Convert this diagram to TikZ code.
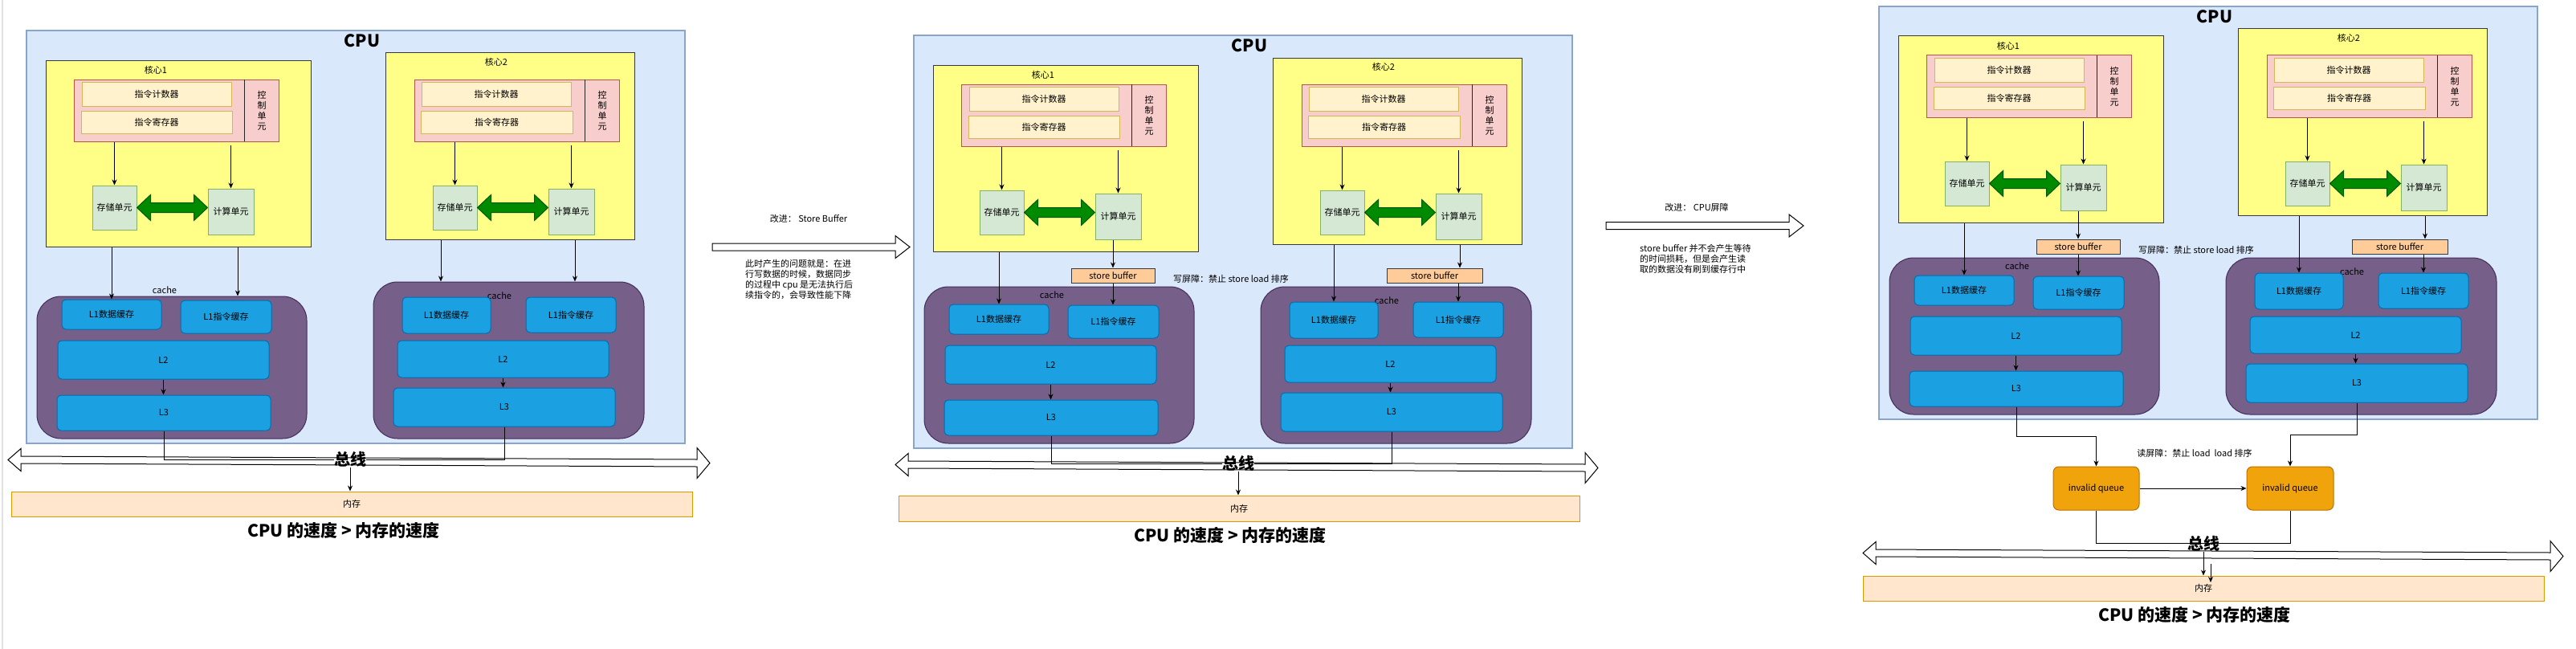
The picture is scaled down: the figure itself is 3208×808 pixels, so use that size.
\documentclass[tikz,border=0pt]{standalone}
\usepackage{fontspec}
\setmainfont{Noto Sans CJK SC}
\usetikzlibrary{calc,arrows.meta}
\definecolor{cpuF}{HTML}{DAE8FC}\definecolor{cpuS}{HTML}{6C8EBF}
\definecolor{coreF}{HTML}{FFFF88}\definecolor{coreS}{HTML}{36393D}
\definecolor{ctrlF}{HTML}{F8CECC}\definecolor{ctrlS}{HTML}{B85450}
\definecolor{regF}{HTML}{FFF2CC}\definecolor{regS}{HTML}{D6B656}
\definecolor{unitF}{HTML}{D5E8D4}\definecolor{unitS}{HTML}{82B366}
\definecolor{cacheF}{HTML}{76608A}\definecolor{cacheS}{HTML}{432D57}
\definecolor{lF}{HTML}{1BA1E2}\definecolor{lS}{HTML}{006EAF}
\definecolor{memF}{HTML}{FFE6CC}\definecolor{memS}{HTML}{D79B00}
\definecolor{sbF}{HTML}{FFCC99}\definecolor{sbS}{HTML}{36393D}
\definecolor{iqF}{HTML}{F0A30A}\definecolor{iqS}{HTML}{BD7000}
\definecolor{gF}{HTML}{008A00}\definecolor{gS}{HTML}{005700}
\tikzset{
  cpubox/.style={fill=cpuF,draw=cpuS!80,line width=1.1pt},
  corebox/.style={fill=coreF,draw=coreS,line width=1pt},
  ctrlbox/.style={fill=ctrlF,draw=ctrlS,line width=1pt},
  regbox/.style={fill=regF,draw=regS,line width=1pt},
  unitbox/.style={fill=unitF,draw=unitS,line width=1pt},
  cachebox/.style={fill=cacheF,draw=cacheS,line width=1pt,rounded corners=30pt},
  lbox/.style={fill=lF,draw=lS,line width=1pt,rounded corners=5pt},
  sbbox/.style={fill=sbF,draw=sbS,line width=1pt},
  iqbox/.style={fill=iqF,draw=iqS,line width=1pt,rounded corners=7pt},
  membox/.style={fill=memF,draw=memS,line width=1pt},
  garrow/.style={fill=gF,draw=gS,line width=1pt},
  hollow/.style={fill=white,draw=black,line width=1pt},
  divl/.style={draw=black!85,line width=1pt},
  arr/.style={-{Stealth[length=7pt,width=6pt]},line width=0.9pt},
  conn/.style={line width=0.9pt},
  titlef/.style={font=\fontsize{21}{24}\selectfont\bfseries},
  busf/.style={font=\fontsize{20}{24}\selectfont\bfseries},
  bigf/.style={font=\fontsize{21}{24}\selectfont\bfseries},
}
\newcommand{\bx}[7]{\node[#1,minimum width={(#5)-(#3)},minimum height={(#6)-(#4)}] (#2) at ({((#3)+(#5))/2},{((#4)+(#6))/2}) {#7};}
% #1 style, #2 left tip, #3 right tip, #4 head length, #5 left head half, #6 right head half, #7 shaft half
\newcommand{\dblarrow}[7]{\filldraw[#1] (#2) -- ($(#2)+(#4,-#5)$) -- ($(#2)+(#4,-#7)$) -- ($(#3)+(-#4,-#7)$) -- ($(#3)+(-#4,-#6)$) -- (#3) -- ($(#3)+(-#4,#6)$) -- ($(#3)+(-#4,#7)$) -- ($(#2)+(#4,#7)$) -- ($(#2)+(#4,#5)$) -- cycle;}
\newcommand{\onearrow}[3]{\filldraw[hollow] ($(#1)+(0,-4.5)$) -- ($(#2)+(-18,-4.5)$) -- ($(#2)+(-18,-14)$) -- (#2) -- ($(#2)+(-18,14)$) -- ($(#2)+(-18,4.5)$) -- ($(#1)+(0,4.5)$) -- cycle;}
\newcommand{\panel}[2]{%
\bx{cpubox}{#1cpu}{33}{38}{853}{552}{}
\node[titlef] (#1title) at (451,51) {CPU};
% core 1
\bx{corebox}{#1k1}{57}{75}{387}{307}{}
\node (#1k1t) at (194,87) {核心1};
\bx{ctrlbox}{#1c1}{92}{99}{347}{176}{}
\draw[divl] (304,99) -- (304,176);
\node[align=center] (#1c1t) at (326,137.5) {控\\制\\单\\元};
\bx{regbox}{#1pc1}{102}{102}{288}{132}{指令计数器}
\bx{regbox}{#1ir1}{101}{138}{289}{166}{指令寄存器}
\bx{unitbox}{#1st1}{115}{231}{170}{286}{存储单元}
\bx{unitbox}{#1cu1}{259}{235}{316}{292}{计算单元}
\draw[arr] (#1c1.south -| #1st1.north) -- (#1st1.north);
\draw[arr] ($(#1c1.south -| #1cu1.north)+(0,4)$) -- (#1cu1.north);
\coordinate (#1gb1) at (#1cu1.west |- #1st1.east);
\dblarrow{garrow}{#1st1.east}{#1gb1}{17}{16}{16}{6}
% core 2
\bx{corebox}{#1k2}{480}{66}{790}{298}{}
\node (#1k2t) at (618,77) {核心2};
\bx{ctrlbox}{#1c2}{516}{99}{771}{176}{}
\draw[divl] (728,99) -- (728,176);
\node[align=center] (#1c2t) at (750,137.5) {控\\制\\单\\元};
\bx{regbox}{#1pc2}{525}{102}{711}{132}{指令计数器}
\bx{regbox}{#1ir2}{524}{138}{713}{166}{指令寄存器}
\bx{unitbox}{#1st2}{539}{231}{594}{286}{存储单元}
\bx{unitbox}{#1cu2}{683}{235}{740}{292}{计算单元}
\draw[arr] (#1c2.south -| #1st2.north) -- (#1st2.north);
\draw[arr] ($(#1c2.south -| #1cu2.north)+(0,4)$) -- (#1cu2.north);
\coordinate (#1gb2) at (#1cu2.west |- #1st2.east);
\dblarrow{garrow}{#1st2.east}{#1gb2}{17}{16}{16}{6}
% caches
\bx{cachebox}{#1ca}{46}{#2}{382}{546}{}
\node (#1cat) at (205,361) {cache};
\bx{lbox}{#1d1}{77}{373}{201}{410}{L1数据缓存}
\bx{lbox}{#1i1}{225}{374}{338}{415}{L1指令缓存}
\bx{lbox}{#1La}{72}{424}{335}{472}{L2}
\bx{lbox}{#1Ma}{71}{492}{337}{536}{L3}
\draw[arr] (#1La.south) -- (#1Ma.north -| #1La.south);
\bx{cachebox}{#1cb}{465}{351}{802}{546}{}
\node (#1cbt) at (622,368) {cache};
\bx{lbox}{#1d2}{501}{370}{611}{415}{L1数据缓存}
\bx{lbox}{#1i2}{655}{370}{767}{414}{L1指令缓存}
\bx{lbox}{#1Lb}{495}{424}{758}{470}{L2}
\bx{lbox}{#1Mb}{490}{483}{766}{531}{L3}
\draw[arr] (#1Lb.south) -- (#1Mb.north -| #1Lb.south);
}
\newcommand{\sbparts}[1]{%
\bx{sbbox}{#1sb1}{229}{328}{333}{346}{store buffer}
\bx{sbbox}{#1sb2}{622}{328}{741}{346}{store buffer}
\node (#1wb) at (428,341) {写屏障：禁止 store load 排序};
\coordinate (#1x713) at (713,0);
\draw[arr] (#1k1.south -| #1d1.north) -- (#1d1.north);
\draw[arr] (#1cu1.south -| #1sb1.north) -- (#1sb1.north);
\draw[arr] (#1sb1.south) -- (#1i1.north -| #1sb1.south);
\draw[arr] (#1k2.south -| #1d2.north) -- (#1d2.north);
\draw[arr] (#1k2.south -| #1x713) -- (#1sb2.north -| #1x713);
\draw[arr] (#1sb2.south -| #1i2.north) -- (#1i2.north);
}
\begin{document}
\begin{tikzpicture}[x=1pt,y=-1pt,every node/.style={font=\fontsize{11}{13}\selectfont,inner sep=0pt}]
\useasboundingbox (0,0) rectangle (3208,808);
\fill[white] (0,0) rectangle (3208,808);
\draw[black!12,line width=2pt] (3,0) -- (3,808);
% ---------- panel 1 ----------
\begin{scope}
\panel{p1}{369}
\coordinate (p1x296) at (296,0);
\coordinate (p1x549) at (549,0);
\coordinate (p1x716) at (716,0);
\draw[arr] (p1k1.south -| p1d1.north) -- (p1d1.north);
\draw[arr] (p1k1.south -| p1x296) -- (p1ca.north -| p1x296);
\draw[arr] (p1k2.south -| p1x549) -- (p1cb.north -| p1x549);
\draw[arr] (p1k2.south -| p1x716) -- (p1cb.north -| p1x716);
\end{scope}
\coordinate (p1bL) at (10,572.5);
\coordinate (p1bR) at (884,576.5);
\dblarrow{hollow}{p1bL}{p1bR}{16}{14}{19}{4.5}
\node[busf] (p1bus) at (436,572) {总线};
\bx{membox}{p1mem}{14}{612}{862}{643}{内存}
\draw[conn] (p1Ma.south) |- (p1bus.west);
\draw[conn] (p1Mb.south) |- (p1bus.east);
\draw[arr] (p1bus.south) -- (p1mem.north -| p1bus.south);
\node[bigf] (p1sp) at (428,660) {CPU 的速度 > 内存的速度};
% ---------- transition 1 ----------
\coordinate (t1a) at (887,307.5);
\coordinate (t1b) at (1133,307.5);
\onearrow{t1a}{t1b}{}
\node (t1l) at (1007,272) {改进： Store Buffer};
\node[align=left,anchor=west] (t1d) at (928,348) {此时产生的问题就是：在进\\行写数据的时候，数据同步\\的过程中 cpu 是无法执行后\\续指令的，会导致性能下降};
% ---------- panel 2 ----------
\begin{scope}[shift={(1105,6)}]
\panel{p2}{351}
\sbparts{p2}
\end{scope}
\coordinate (p2bL) at (1115,578.5);
\coordinate (p2bR) at (1990,582.5);
\dblarrow{hollow}{p2bL}{p2bR}{16}{14}{19}{4.5}
\node[busf] (p2bus) at (1542,577) {总线};
\bx{membox}{p2mem}{1119}{617}{1967}{649}{内存}
\draw[conn] (p2Ma.south) |- (p2bus.west);
\draw[conn] (p2Mb.south) |- (p2bus.east);
\draw[arr] (p2bus.south) -- (p2mem.north -| p2bus.south);
\node[bigf] (p2sp) at (1532,666) {CPU 的速度 > 内存的速度};
% ---------- transition 2 ----------
\coordinate (t2a) at (2000,281);
\coordinate (t2b) at (2246,281);
\onearrow{t2a}{t2b}{}
\node (t2l) at (2113,258) {改进： CPU屏障};
\node[align=left,anchor=west] (t2d) at (2042,322) {store buffer 并不会产生等待\\的时间损耗，但是会产生读\\取的数据没有刷到缓存行中};
% ---------- panel 3 ----------
\begin{scope}[shift={(2307,-30)}]
\panel{p3}{351}
\sbparts{p3}
\end{scope}
\bx{iqbox}{iq1}{2557}{581}{2664}{635}{invalid queue}
\bx{iqbox}{iq2}{2798}{581}{2906}{635}{invalid queue}
\node (p3rb) at (2733,564) {读屏障：禁止 load\ \ load 排序};
\draw[arr] (p3Ma.south) -- ++(0,37) -| (iq1.north);
\draw[arr] (p3Mb.south) -- ++(0,40) -| (iq2.north);
\draw[arr] (iq1.east) -- (iq2.west);
\coordinate (p3bL) at (2320,688.5);
\coordinate (p3bR) at (3192,692.5);
\dblarrow{hollow}{p3bL}{p3bR}{16}{14}{19}{4.5}
\draw[conn] (iq1.south) -- ++(0,41) -| (iq2.south);
\node[busf] (p3bus) at (2744,677) {总线};
\bx{membox}{p3mem}{2320}{717}{3168}{748}{内存}
\draw[arr] (p3bus.south) -- (p3mem.north -| p3bus.south);
\coordinate (p3xa) at (2753,702);
\coordinate (p3xb) at (2753,725);
\draw[arr] (p3xa) -- (p3xb);
\node[bigf] (p3sp) at (2733,765) {CPU 的速度 > 内存的速度};
\end{tikzpicture}
\end{document}
